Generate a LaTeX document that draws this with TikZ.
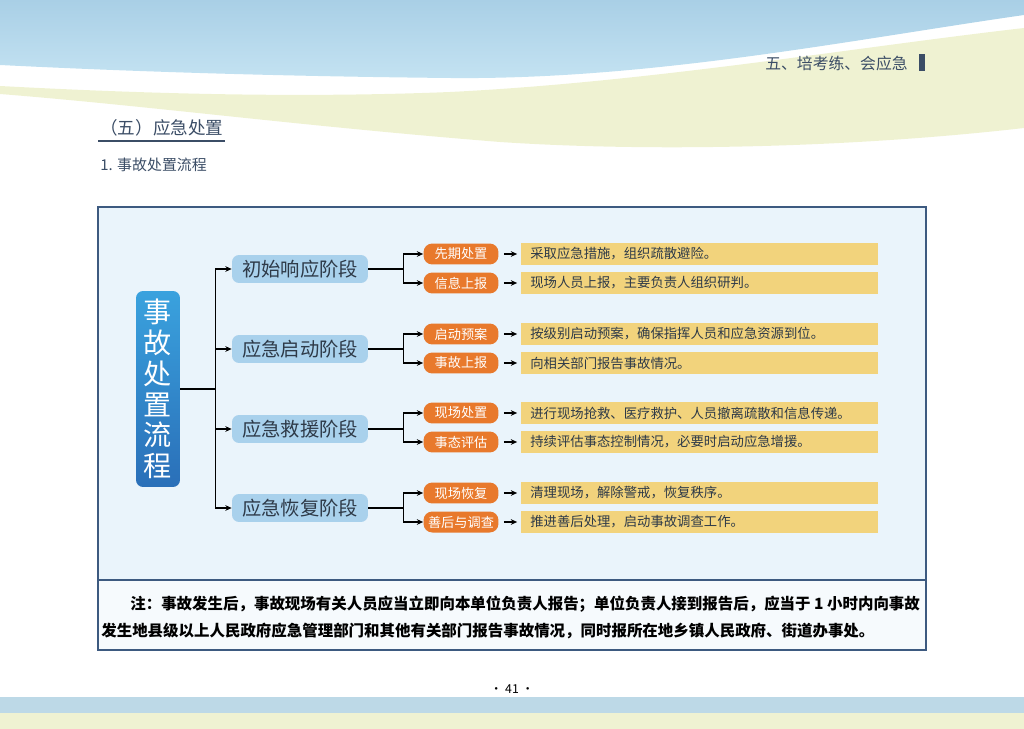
\documentclass[tikz,border=0pt]{standalone}
\usepackage{fontspec}
\setmainfont{Noto Sans CJK SC}
\usepackage{tikz}
\usetikzlibrary{arrows.meta,positioning,calc}

\definecolor{framec}{HTML}{3D5A80}
\definecolor{panelc}{HTML}{EAF4FB}
\definecolor{notec}{HTML}{F6FAFD}
\definecolor{phasec}{HTML}{A9D1EC}
\definecolor{actc}{HTML}{E8792C}
\definecolor{descc}{HTML}{F2D37C}
\definecolor{inkc}{HTML}{2E3A48}
\definecolor{headc}{HTML}{3B4D66}
\definecolor{skyc}{HTML}{C4E3F2}
\definecolor{skytop}{HTML}{A9CFE6}
\definecolor{sandc}{HTML}{EFF2D2}
\definecolor{maintop}{HTML}{3AA2DE}
\definecolor{mainbot}{HTML}{2A6FB8}

\begin{document}
\begin{tikzpicture}[x=0.02cm, y=-0.02cm,
    mainbox/.style={rounded corners=4pt, top color=maintop, bottom color=mainbot, text=white, align=center, minimum width=0.88cm, minimum height=3.92cm, inner sep=0pt, font=\fontsize{16}{17.5}\selectfont},
    phase/.style={rounded corners=4pt, fill=phasec, text=inkc, minimum width=2.72cm, minimum height=0.56cm, inner sep=0pt, font=\fontsize{11}{12}\selectfont},
    act/.style={rounded corners=5pt, fill=actc, text=white, minimum width=1.5cm, minimum height=0.42cm, inner sep=0pt, font=\fontsize{7.5}{8}\selectfont},
    desc/.style={fill=descc, text=inkc, anchor=west, text width=6.78cm, inner xsep=0.18cm, inner ysep=0pt, minimum height=0.44cm, align=left, font=\fontsize{7.6}{8}\selectfont},
    note/.style={anchor=west, inner sep=0pt, text=black, font=\bfseries\fontsize{8.8}{9}\selectfont},
    arr/.style={-{Stealth[length=3.6pt,width=3.2pt]}, line width=0.7pt},
    link/.style={line width=0.7pt},
    slink/.style={-{Stealth[length=3.6pt,width=3.2pt]}, line width=0.7pt, shorten <=2.8pt, shorten >=2.2pt}
]
\useasboundingbox (0,0) rectangle (1024,729);

% page background
\shade[top color=skytop, bottom color=skyc] (0,0) -- (1024,0) -- (1024,15) .. controls (850,40) and (650,80) .. (450,78) .. controls (250,76) and (100,70) .. (0,65) -- cycle;
\fill[sandc] (0,86) .. controls (150,94) and (300,98) .. (450,92) .. controls (650,82) and (850,48) .. (1024,28) -- (1024,128) .. controls (850,148) and (650,152) .. (500,142) .. controls (300,126) and (150,106) .. (0,94) -- cycle;
\fill[skyc!90!gray] (0,697) rectangle (1024,713);
\fill[sandc] (0,713) rectangle (1024,729);

% header
\node[anchor=east, text=headc, inner sep=0pt, font=\fontsize{9}{10}\selectfont] (head) at (908,63) {五、培考练、会应急};
\fill[headc] (919,54) rectangle (925,71);
\node[anchor=west, text=headc, inner sep=0pt, font=\fontsize{10}{11}\selectfont] (sect) at (100,128) {（五）应急处置};
\draw[headc, line width=0.6pt] (98,141) -- (225,141);
\node[anchor=west, text=headc, inner sep=0pt, font=\fontsize{8.5}{9}\selectfont] (sub) at (100,165) {1. 事故处置流程};

% panel
\fill[panelc] (98,207) rectangle (926,580);
\fill[notec] (98,580) rectangle (926,650);
\draw[framec, line width=0.9pt] (98,207) rectangle (926,650);
\draw[framec, line width=0.9pt] (98,580) -- (926,580);

\node[mainbox] (main) at (158,389) {事\\故\\处\\置\\流\\程};

\node[phase] (p1) at (300,269) {初始响应阶段};
\node[phase] (p2) at (300,349) {应急启动阶段};
\node[phase] (p3) at (300,429) {应急救援阶段};
\node[phase] (p4) at (300,508) {应急恢复阶段};

\node[act] (a11) at (461,254) {先期处置};
\node[act] (a12) at (461,283) {信息上报};
\node[act] (a21) at (461,334) {启动预案};
\node[act] (a22) at (461,363) {事故上报};
\node[act] (a31) at (461,413) {现场处置};
\node[act] (a32) at (461,442) {事态评估};
\node[act] (a41) at (461,493) {现场恢复};
\node[act] (a42) at (461,522) {善后与调查};

\node[desc] (t11) at (521,254) {采取应急措施，组织疏散避险。};
\node[desc] (t12) at (521,283) {现场人员上报，主要负责人组织研判。};
\node[desc] (t21) at (521,334) {按级别启动预案，确保指挥人员和应急资源到位。};
\node[desc] (t22) at (521,363) {向相关部门报告事故情况。};
\node[desc] (t31) at (521,413) {进行现场抢救、医疗救护、人员撤离疏散和信息传递。};
\node[desc] (t32) at (521,442) {持续评估事态控制情况，必要时启动应急增援。};
\node[desc] (t41) at (521,493) {清理现场，解除警戒，恢复秩序。};
\node[desc] (t42) at (521,522) {推进善后处理，启动事故调查工作。};

% main -> phases
\draw[link] (main.east) -- ++(35,0) coordinate (hub);
\draw[arr] (hub) |- (p1);
\draw[arr] (hub) |- (p2);
\draw[arr] (hub) |- (p3);
\draw[arr] (hub) |- (p4);

% phases -> actions
\draw[link] (p1.east) -- ++(35,0) coordinate (h1);
\draw[arr] (h1) |- (a11);
\draw[arr] (h1) |- (a12);
\draw[link] (p2.east) -- ++(35,0) coordinate (h2);
\draw[arr] (h2) |- (a21);
\draw[arr] (h2) |- (a22);
\draw[link] (p3.east) -- ++(35,0) coordinate (h3);
\draw[arr] (h3) |- (a31);
\draw[arr] (h3) |- (a32);
\draw[link] (p4.east) -- ++(35,0) coordinate (h4);
\draw[arr] (h4) |- (a41);
\draw[arr] (h4) |- (a42);

% actions -> descriptions
\draw[slink] (a11) -- (t11);
\draw[slink] (a12) -- (t12);
\draw[slink] (a21) -- (t21);
\draw[slink] (a22) -- (t22);
\draw[slink] (a31) -- (t31);
\draw[slink] (a32) -- (t32);
\draw[slink] (a41) -- (t41);
\draw[slink] (a42) -- (t42);

% note
\node[note] (n1) at (130,604) {注：事故发生后，事故现场有关人员应当立即向本单位负责人报告；单位负责人接到报告后，应当于 1 小时内向事故};
\node[note] (n2) at (101,631) {发生地县级以上人民政府应急管理部门和其他有关部门报告事故情况，同时报所在地乡镇人民政府、街道办事处。};

\node[text=black, inner sep=0pt, font=\fontsize{7}{8}\selectfont] (pg) at (512,689) {· 41 ·};
\end{tikzpicture}
\end{document}
